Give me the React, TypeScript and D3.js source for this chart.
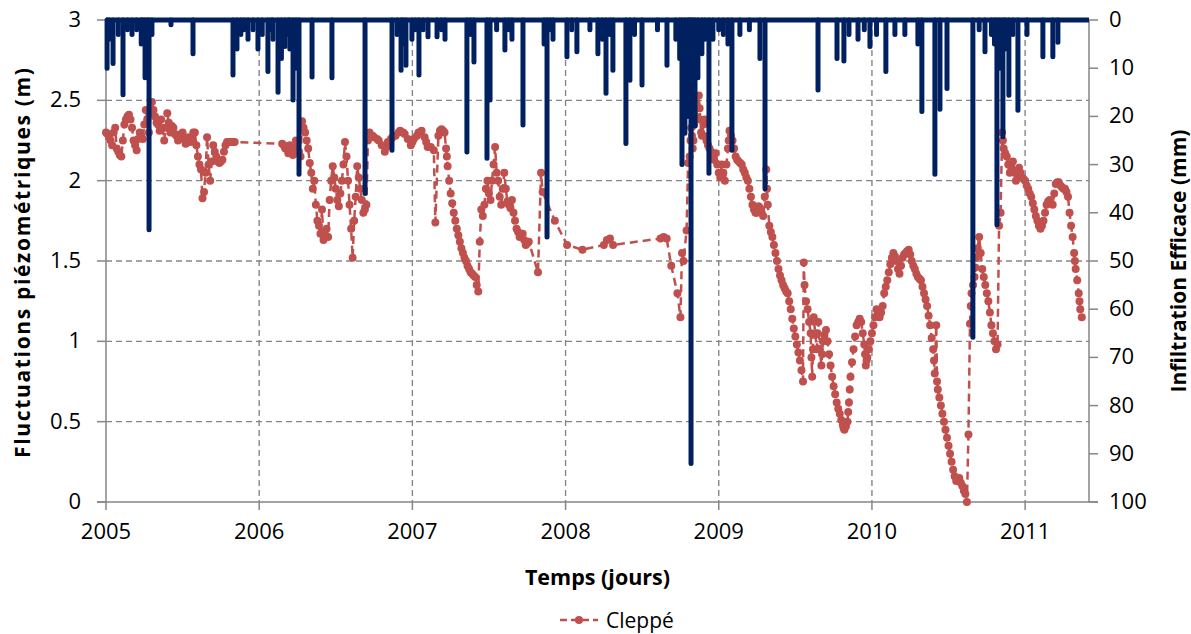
import React from 'react';
import * as d3 from 'd3';

const W = 1191;
const H = 634;

const yearTicks = [2005, 2006, 2007, 2008, 2009, 2010, 2011];
const levelTicks = [0, 0.5, 1, 1.5, 2, 2.5, 3];
const infilTicks = [0, 10, 20, 30, 40, 50, 60, 70, 80, 90, 100];

// Cleppé piezometric level [decimal year, m]
const cleppe: [number, number][] = [
  // 2005
  [2005.0, 2.3], [2005.01, 2.29], [2005.02, 2.27], [2005.03, 2.25], [2005.04, 2.22], [2005.05, 2.3],
  [2005.06, 2.33], [2005.07, 2.2], [2005.08, 2.18], [2005.09, 2.16], [2005.1, 2.15], [2005.11, 2.25],
  [2005.12, 2.35], [2005.13, 2.38], [2005.14, 2.4], [2005.15, 2.41], [2005.16, 2.38], [2005.17, 2.33],
  [2005.18, 2.25], [2005.19, 2.22], [2005.2, 2.19], [2005.21, 2.26], [2005.22, 2.3], [2005.23, 2.28],
  [2005.24, 2.26], [2005.25, 2.35], [2005.26, 2.44], [2005.27, 2.38], [2005.28, 2.3], [2005.29, 2.42],
  [2005.3, 2.49], [2005.31, 2.44], [2005.32, 2.4], [2005.33, 2.36], [2005.34, 2.35], [2005.35, 2.31],
  [2005.36, 2.38], [2005.37, 2.33], [2005.38, 2.25], [2005.39, 2.33], [2005.4, 2.42], [2005.41, 2.36],
  [2005.42, 2.3], [2005.43, 2.34], [2005.44, 2.33], [2005.45, 2.29], [2005.46, 2.28], [2005.47, 2.25],
  [2005.48, 2.26], [2005.49, 2.29], [2005.5, 2.3], [2005.51, 2.27], [2005.52, 2.23], [2005.53, 2.25],
  [2005.54, 2.27], [2005.55, 2.24], [2005.56, 2.26], [2005.57, 2.3], [2005.58, 2.3], [2005.59, 2.22],
  [2005.6, 2.15], [2005.61, 2.1], [2005.62, 2.07], [2005.63, 1.89], [2005.64, 1.93], [2005.65, 2.05],
  [2005.66, 2.27], [2005.67, 2.1], [2005.68, 2.0], [2005.69, 2.12], [2005.7, 2.22], [2005.71, 2.18],
  [2005.72, 2.15], [2005.73, 2.12], [2005.74, 2.11], [2005.75, 2.12], [2005.76, 2.13], [2005.77, 2.18],
  [2005.78, 2.22], [2005.79, 2.24], [2005.8, 2.24], [2005.81, 2.24], [2005.82, 2.24], [2005.83, 2.24],
  [2005.84, 2.24],
  // 2006
  [2006.15, 2.23], [2006.16, 2.22], [2006.17, 2.2], [2006.18, 2.2], [2006.19, 2.17], [2006.2, 2.22],
  [2006.21, 2.18], [2006.22, 2.16], [2006.23, 2.2], [2006.24, 2.25], [2006.25, 2.22], [2006.26, 2.18],
  [2006.27, 2.15], [2006.28, 2.37], [2006.29, 2.33], [2006.3, 2.3], [2006.31, 2.25], [2006.32, 2.2],
  [2006.33, 2.11], [2006.34, 2.05], [2006.35, 1.95], [2006.36, 2.0], [2006.37, 1.85], [2006.38, 1.75],
  [2006.39, 1.72], [2006.4, 1.67], [2006.41, 1.82], [2006.42, 1.63], [2006.43, 1.66], [2006.44, 1.7],
  [2006.45, 1.65], [2006.46, 1.88], [2006.47, 2.0], [2006.48, 2.09], [2006.49, 2.02], [2006.5, 1.95],
  [2006.51, 1.88], [2006.52, 1.84], [2006.53, 1.92], [2006.54, 2.0], [2006.55, 2.1], [2006.56, 2.24],
  [2006.57, 2.15], [2006.58, 2.0], [2006.59, 1.85], [2006.6, 1.7], [2006.61, 1.52], [2006.62, 1.75],
  [2006.63, 1.9], [2006.64, 2.09], [2006.65, 2.02], [2006.66, 1.95], [2006.67, 1.88], [2006.68, 1.8],
  [2006.69, 1.82], [2006.7, 1.85], [2006.71, 2.25], [2006.72, 2.3], [2006.74, 2.28], [2006.75, 2.27],
  [2006.77, 2.26], [2006.78, 2.25], [2006.8, 2.22], [2006.82, 2.18], [2006.83, 2.21], [2006.84, 2.24],
  [2006.86, 2.26], [2006.87, 2.27], [2006.89, 2.28], [2006.91, 2.3], [2006.92, 2.31], [2006.94, 2.3],
  [2006.95, 2.29], [2006.97, 2.26], [2006.99, 2.22], [2007.0, 2.24], [2007.01, 2.26], [2007.03, 2.28],
  [2007.04, 2.3], [2007.06, 2.31], [2007.08, 2.27], [2007.09, 2.24], [2007.1, 2.21], [2007.12, 2.21],
  [2007.14, 2.19], [2007.15, 1.74],
  // 2007
  [2007.17, 2.28], [2007.18, 2.31], [2007.19, 2.32], [2007.2, 2.31], [2007.21, 2.3], [2007.22, 2.2],
  [2007.225, 2.15], [2007.23, 2.09], [2007.24, 2.0], [2007.25, 1.92], [2007.26, 1.86], [2007.27, 1.8],
  [2007.28, 1.75], [2007.29, 1.7], [2007.3, 1.66], [2007.31, 1.62], [2007.32, 1.58], [2007.33, 1.55],
  [2007.34, 1.52], [2007.35, 1.5], [2007.36, 1.47], [2007.37, 1.45], [2007.38, 1.43], [2007.39, 1.42],
  [2007.4, 1.41], [2007.41, 1.4], [2007.42, 1.35], [2007.43, 1.31], [2007.44, 1.62], [2007.45, 1.82],
  [2007.46, 1.78], [2007.47, 1.85], [2007.48, 1.95], [2007.49, 2.0], [2007.5, 1.92], [2007.51, 1.88],
  [2007.52, 2.0], [2007.53, 2.1], [2007.54, 2.21], [2007.55, 2.05], [2007.56, 2.0], [2007.57, 1.9],
  [2007.58, 1.85], [2007.59, 1.95], [2007.6, 2.05], [2007.61, 1.95], [2007.62, 1.87], [2007.63, 1.85],
  [2007.64, 1.83], [2007.65, 1.88], [2007.66, 1.8], [2007.67, 1.75], [2007.68, 1.7], [2007.69, 1.68],
  [2007.7, 1.65], [2007.71, 1.66], [2007.72, 1.67], [2007.73, 1.63], [2007.74, 1.6], [2007.75, 1.61],
  [2007.76, 1.62], [2007.82, 1.43], [2007.84, 2.05], [2007.85, 1.93],
  // 2008
  [2007.93, 1.75], [2008.01, 1.6], [2008.11, 1.57], [2008.25, 1.6], [2008.27, 1.63], [2008.29, 1.64],
  [2008.31, 1.6], [2008.62, 1.64], [2008.64, 1.65], [2008.66, 1.64], [2008.69, 1.47], [2008.73, 1.3],
  [2008.75, 1.15], [2008.76, 1.55], [2008.77, 1.5], [2008.79, 1.69], [2008.8, 2.11], [2008.81, 2.15],
  [2008.815, 2.25], [2008.82, 2.33], [2008.825, 2.28], [2008.83, 2.2], [2008.835, 2.25], [2008.84, 2.35],
  [2008.85, 2.4], [2008.86, 2.45], [2008.87, 2.53], [2008.875, 2.45], [2008.88, 2.38], [2008.885, 2.3],
  [2008.89, 2.28], [2008.9, 2.35], [2008.91, 2.38], [2008.92, 2.25], [2008.93, 2.22], [2008.94, 2.2],
  [2008.95, 2.18], [2008.96, 2.15], [2008.97, 2.13], [2008.98, 2.17], [2008.99, 2.1],
  // 2009
  [2009.0, 2.05], [2009.01, 2.02], [2009.02, 2.1], [2009.03, 2.05], [2009.04, 2.0], [2009.05, 2.1],
  [2009.06, 2.2], [2009.065, 2.25], [2009.07, 2.31], [2009.08, 2.28], [2009.09, 2.25], [2009.1, 2.2],
  [2009.11, 2.15], [2009.12, 2.13], [2009.13, 2.12], [2009.14, 2.11], [2009.15, 2.1], [2009.16, 2.07],
  [2009.17, 2.05], [2009.18, 2.02], [2009.19, 2.0], [2009.2, 1.95], [2009.21, 1.9], [2009.22, 1.85],
  [2009.23, 1.82], [2009.24, 1.8], [2009.25, 1.8], [2009.26, 1.84], [2009.27, 1.83], [2009.28, 1.8],
  [2009.29, 1.78], [2009.3, 1.9], [2009.31, 2.07], [2009.315, 1.95], [2009.32, 1.85], [2009.33, 1.72],
  [2009.34, 1.68], [2009.35, 1.65], [2009.36, 1.6], [2009.37, 1.55], [2009.38, 1.5], [2009.39, 1.45],
  [2009.4, 1.41], [2009.41, 1.38], [2009.42, 1.35], [2009.43, 1.33], [2009.44, 1.31], [2009.45, 1.3],
  [2009.46, 1.25], [2009.47, 1.2], [2009.48, 1.14], [2009.49, 1.08], [2009.5, 1.03], [2009.51, 0.98],
  [2009.52, 0.93], [2009.53, 0.88], [2009.54, 0.82], [2009.55, 0.75], [2009.555, 1.49], [2009.56, 1.35],
  [2009.57, 1.25], [2009.58, 1.2], [2009.59, 1.12], [2009.6, 1.05], [2009.605, 0.9], [2009.61, 0.78],
  [2009.615, 0.95], [2009.62, 1.15], [2009.63, 1.05], [2009.64, 0.95], [2009.645, 1.05], [2009.65, 1.12],
  [2009.66, 0.95], [2009.67, 0.85], [2009.675, 0.92], [2009.68, 1.0], [2009.69, 1.04], [2009.7, 1.07],
  [2009.71, 1.0], [2009.72, 0.92], [2009.73, 0.85], [2009.74, 0.78], [2009.75, 0.72], [2009.76, 0.67],
  [2009.77, 0.62], [2009.78, 0.58], [2009.79, 0.55], [2009.8, 0.51], [2009.81, 0.48], [2009.815, 0.46],
  [2009.82, 0.45], [2009.83, 0.47], [2009.84, 0.5], [2009.845, 0.56], [2009.85, 0.62], [2009.855, 0.7],
  [2009.86, 0.78], [2009.87, 0.87], [2009.88, 0.95], [2009.89, 1.03], [2009.9, 1.1], [2009.91, 1.12],
  [2009.92, 1.14], [2009.93, 1.12], [2009.94, 1.05], [2009.95, 0.98], [2009.955, 0.92], [2009.96, 0.85],
  [2009.965, 0.88], [2009.97, 0.9], [2009.98, 0.95], [2009.99, 1.0],
  // 2010
  [2010.0, 1.05], [2010.01, 1.1], [2010.02, 1.15], [2010.03, 1.2], [2010.04, 1.18], [2010.05, 1.15],
  [2010.06, 1.18], [2010.07, 1.22], [2010.08, 1.3], [2010.09, 1.34], [2010.1, 1.38], [2010.11, 1.43],
  [2010.12, 1.48], [2010.13, 1.52], [2010.14, 1.55], [2010.15, 1.53], [2010.16, 1.5], [2010.17, 1.45],
  [2010.18, 1.42], [2010.19, 1.47], [2010.2, 1.52], [2010.21, 1.54], [2010.22, 1.55], [2010.23, 1.56],
  [2010.24, 1.57], [2010.25, 1.54], [2010.26, 1.5], [2010.27, 1.47], [2010.28, 1.45], [2010.29, 1.42],
  [2010.3, 1.4], [2010.31, 1.39], [2010.32, 1.38], [2010.33, 1.34], [2010.34, 1.3], [2010.35, 1.26],
  [2010.36, 1.22], [2010.37, 1.16], [2010.38, 1.1], [2010.39, 1.02], [2010.4, 0.95], [2010.405, 0.88],
  [2010.41, 0.8], [2010.42, 1.1], [2010.425, 0.75], [2010.43, 0.7], [2010.44, 0.65], [2010.45, 0.6],
  [2010.46, 0.55], [2010.47, 0.5], [2010.48, 0.45], [2010.49, 0.4], [2010.5, 0.35], [2010.51, 0.3],
  [2010.52, 0.25], [2010.53, 0.2], [2010.54, 0.16], [2010.55, 0.13], [2010.56, 0.14], [2010.57, 0.15],
  [2010.58, 0.12], [2010.59, 0.1], [2010.6, 0.07], [2010.61, 0.05], [2010.62, 0.0], [2010.63, 0.42],
  [2010.64, 1.11], [2010.645, 1.22], [2010.65, 1.3], [2010.66, 1.35], [2010.67, 1.4], [2010.675, 1.46],
  [2010.68, 1.52], [2010.69, 1.58], [2010.7, 1.65], [2010.71, 1.55], [2010.72, 1.45], [2010.73, 1.4],
  [2010.74, 1.35], [2010.75, 1.3], [2010.76, 1.25], [2010.77, 1.18], [2010.78, 1.1], [2010.79, 1.05],
  [2010.8, 1.0], [2010.81, 0.95], [2010.82, 0.98], [2010.83, 1.72], [2010.84, 1.8], [2010.85, 2.3],
  [2010.855, 2.25], [2010.86, 2.2], [2010.87, 2.17], [2010.88, 2.15], [2010.89, 2.1], [2010.9, 2.05],
  [2010.91, 2.08], [2010.92, 2.12], [2010.93, 2.05], [2010.94, 2.0], [2010.95, 2.04], [2010.96, 2.08],
  [2010.97, 2.05], [2010.98, 2.02], [2010.99, 2.01],
  // 2011
  [2011.0, 2.0], [2011.01, 1.97], [2011.02, 1.95], [2011.03, 1.92], [2011.04, 1.9], [2011.05, 1.86],
  [2011.06, 1.82], [2011.07, 1.78], [2011.08, 1.75], [2011.09, 1.72], [2011.1, 1.7], [2011.11, 1.72],
  [2011.12, 1.75], [2011.13, 1.8], [2011.14, 1.85], [2011.15, 1.87], [2011.16, 1.88], [2011.17, 1.86],
  [2011.18, 1.85], [2011.19, 1.92], [2011.2, 1.98], [2011.21, 1.99], [2011.22, 1.99], [2011.23, 1.97],
  [2011.24, 1.96], [2011.25, 1.95], [2011.26, 1.95], [2011.27, 1.93], [2011.28, 1.9], [2011.29, 1.8],
  [2011.3, 1.72], [2011.31, 1.65], [2011.32, 1.55], [2011.325, 1.5], [2011.33, 1.45], [2011.34, 1.38],
  [2011.35, 1.3], [2011.355, 1.25], [2011.36, 1.2], [2011.37, 1.15],
];

// effective infiltration events [decimal year, mm]
const infiltration: [number, number][] = [
  [2005.007, 10], [2005.02, 4], [2005.046, 9], [2005.08, 3], [2005.111, 15.5], [2005.14, 2],
  [2005.17, 3], [2005.2, 2], [2005.23, 5], [2005.24, 3], [2005.255, 12], [2005.27, 8], [2005.281, 43.5],
  [2005.3, 3], [2005.424, 1], [2005.568, 7], [2005.829, 11.4], [2005.855, 6], [2005.88, 3], [2005.9, 2],
  [2005.927, 4], [2005.96, 2], [2005.992, 6], [2006.02, 3], [2006.057, 10.7], [2006.08, 2],
  [2006.09, 4], [2006.123, 15], [2006.145, 8], [2006.168, 5.5], [2006.19, 3], [2006.2, 6],
  [2006.221, 16.6], [2006.24, 10], [2006.26, 32], [2006.345, 11.8], [2006.475, 12], [2006.691, 36],
  [2006.867, 27], [2006.9, 3], [2006.926, 10.4], [2006.94, 5], [2006.958, 9.4], [2006.997, 4],
  [2007.02, 2], [2007.043, 11.4], [2007.07, 2], [2007.102, 3.5], [2007.161, 3.5], [2007.19, 2],
  [2007.213, 4], [2007.356, 27.4], [2007.38, 3], [2007.402, 8.7], [2007.487, 28.7], [2007.507, 16.6],
  [2007.55, 2], [2007.604, 6.2], [2007.63, 2], [2007.65, 4], [2007.722, 21.8], [2007.86, 5],
  [2007.879, 45], [2007.9, 2], [2007.918, 4], [2008.009, 7.6], [2008.04, 2], [2008.074, 6.6],
  [2008.159, 2], [2008.211, 7], [2008.24, 4], [2008.264, 15.2], [2008.29, 3], [2008.309, 10.4],
  [2008.394, 25.6], [2008.42, 12.5], [2008.45, 3], [2008.499, 13.5], [2008.6, 2], [2008.662, 9.4],
  [2008.72, 4], [2008.745, 8], [2008.76, 30], [2008.779, 23.5], [2008.799, 20], [2008.81, 12],
  [2008.819, 92], [2008.83, 15], [2008.845, 22], [2008.864, 12], [2008.89, 7], [2008.91, 4],
  [2008.936, 31.8], [2008.962, 4], [2009.0, 2], [2009.03, 3], [2009.06, 5], [2009.086, 27],
  [2009.138, 3], [2009.2, 2], [2009.269, 8], [2009.302, 35], [2009.648, 14.5], [2009.772, 8],
  [2009.817, 8.5], [2009.85, 3], [2009.909, 4], [2009.95, 2], [2009.987, 5.5], [2010.03, 3],
  [2010.091, 10.7], [2010.15, 3], [2010.215, 3], [2010.3, 5], [2010.326, 19], [2010.411, 32],
  [2010.444, 18.5], [2010.49, 14.2], [2010.659, 65.8], [2010.7, 2], [2010.738, 6.6], [2010.78, 3],
  [2010.8, 5], [2010.816, 42.5], [2010.835, 10], [2010.855, 24.2], [2010.87, 6], [2010.894, 15.6],
  [2010.92, 3], [2010.953, 18.7], [2011.012, 3], [2011.116, 7.6], [2011.181, 7.6], [2011.214, 4.6],
];

const xStart = 2005;
const xEnd = 2011.417;

const grid = '#868686';
const red = '#C0504D';
const navy = '#002060';
const font = '"Open Sans", "Noto Sans", sans-serif';

export default function App() {
  const x = d3.scaleLinear().domain([xStart, xEnd]).range([106, 1089]);
  const y = d3.scaleLinear().domain([0, 3]).range([502, 20]);
  const yR = d3.scaleLinear().domain([0, 100]).range([20, 502]);

  const line = d3.line<[number, number]>()
    .x(d => x(d[0]))
    .y(d => y(d[1]));

  const [x0, x1] = x.range();
  const [yb, yt] = y.range();

  return (
    <svg width={W} height={H} style={{ position: 'absolute', left: 0, top: 0, background: '#fff' }}
      fontFamily={font}>
      {/* grid */}
      {levelTicks.filter(t => t > 0 && t < 3).map(t => (
        <line key={'h' + t} x1={x0} x2={x1} y1={y(t)} y2={y(t)} stroke={grid} strokeWidth={1.4} strokeDasharray="6,4" />
      ))}
      {yearTicks.filter(t => t > xStart).map(t => (
        <line key={'v' + t} x1={x(t)} x2={x(t)} y1={yt} y2={yb} stroke={grid} strokeWidth={1.4} strokeDasharray="6,4" />
      ))}

      {/* axes */}
      <line x1={x0} x2={x0} y1={yt} y2={yb} stroke={grid} strokeWidth={1.5} />
      <line x1={x1} x2={x1} y1={yt} y2={yb} stroke={grid} strokeWidth={1.5} />
      <line x1={x0 - 9} x2={x1 + 9} y1={yb} y2={yb} stroke={grid} strokeWidth={1.5} />
      {levelTicks.map(t => (
        <g key={'l' + t}>
          <line x1={x0 - 9} x2={x0} y1={y(t)} y2={y(t)} stroke={grid} strokeWidth={1.5} />
          <text x={x0 - 25} y={y(t) + 7} textAnchor="end" fontSize={22} fill="#000">{t}</text>
        </g>
      ))}
      {infilTicks.map(t => (
        <g key={'r' + t}>
          <line x1={x1} x2={x1 + 9} y1={yR(t)} y2={yR(t)} stroke={grid} strokeWidth={1.5} />
          <text x={x1 + 20} y={yR(t) + 7} textAnchor="start" fontSize={22} fill="#000">{t}</text>
        </g>
      ))}
      {yearTicks.map(t => (
        <g key={'x' + t}>
          <line x1={x(t)} x2={x(t)} y1={yb} y2={yb + 8} stroke={grid} strokeWidth={1.5} />
          <text x={x(t)} y={yb + 37} textAnchor="middle" fontSize={22} fill="#000">{t}</text>
        </g>
      ))}

      {/* Cleppé series */}
      <path d={line(cleppe) ?? ''} fill="none" stroke={red} strokeWidth={2.5} strokeDasharray="8,5" />
      {cleppe.map((d, i) => (
        <circle key={'c' + i} cx={x(d[0])} cy={y(d[1])} r={4} fill={red} />
      ))}

      {/* infiltration */}
      {infiltration.map((d, i) => (
        <line key={'s' + i} x1={x(d[0])} x2={x(d[0])} y1={yR(0)} y2={yR(d[1])}
          stroke={navy} strokeWidth={5} strokeLinecap="round" />
      ))}
      <line x1={x0} x2={x1} y1={yR(0)} y2={yR(0)} stroke={navy} strokeWidth={5} />

      {/* titles */}
      <text transform={`translate(30,${(yt + yb) / 2 + 2}) rotate(-90)`} textAnchor="middle" fontSize={21}
        fontWeight="bold" textLength={390} lengthAdjust="spacing">Fluctuations piézométriques (m)</text>
      <text transform={`translate(1186,${(yt + yb) / 2}) rotate(-90)`} textAnchor="middle" fontSize={21}
        fontWeight="bold">Infiltration Efficace (mm)</text>
      <text x={(x0 + x1) / 2} y={585} textAnchor="middle" fontSize={21.5} fontWeight="bold">Temps (jours)</text>

      {/* legend */}
      <line x1={560} x2={598} y1={620} y2={620} stroke={red} strokeWidth={2.5} strokeDasharray="7,4" />
      <circle cx={579} cy={620} r={4} fill={red} />
      <text x={606} y={628} fontSize={21}>Cleppé</text>
    </svg>
  );
}
